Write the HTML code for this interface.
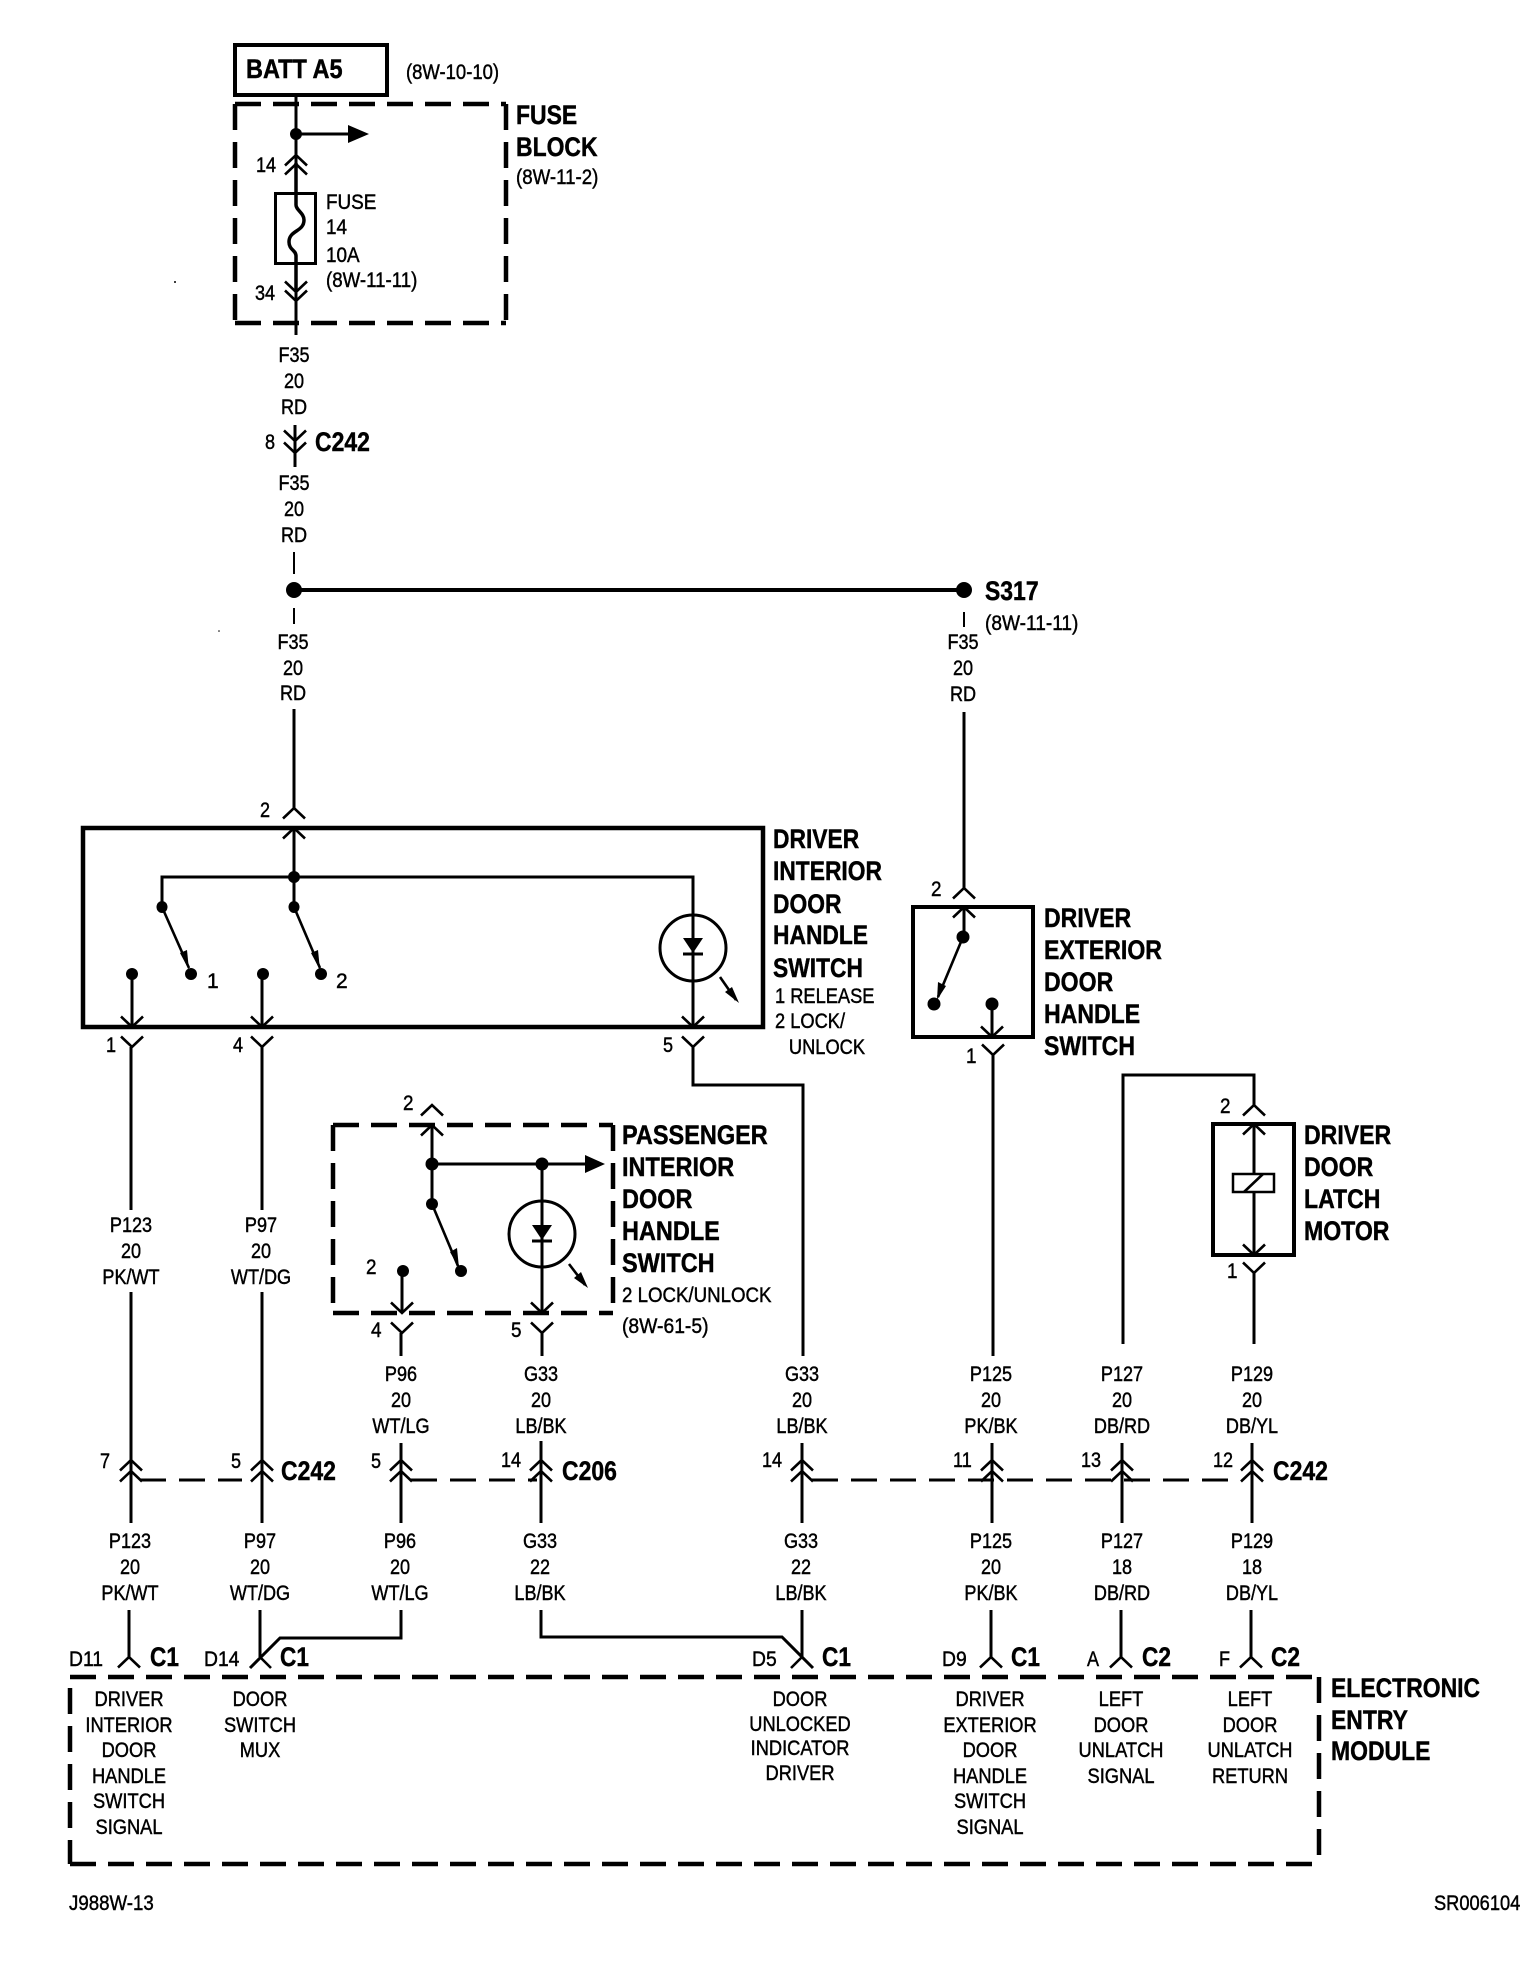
<!DOCTYPE html>
<html lang="en"><head><meta charset="utf-8"><title>Wiring diagram</title>
<style>
html,body{margin:0;padding:0;background:#fff}
svg{display:block}
text{font-family:"Liberation Sans",Arial,sans-serif;fill:#000}
.r text,text.r{font-size:21px;stroke:#000;stroke-width:.45}
.b text,text.b{font-size:27px;font-weight:bold;stroke:#000;stroke-width:.45}
.m text{text-anchor:middle}
.w{fill:none;stroke:#000;stroke-width:3}
.t{fill:none;stroke:#000;stroke-width:4}
.d{fill:none;stroke:#000;stroke-width:4.5;stroke-dasharray:26 12}
.c{fill:none;stroke:#000;stroke-width:2.6}
</style></head><body>
<svg xmlns="http://www.w3.org/2000/svg" width="1536" height="1968" viewBox="0 0 1536 1968">
<rect width="1536" height="1968" fill="#fff"/>
<defs>
<path id="u" class="c" d="M-11 10.5L0 0L11 10.5"/>
<path id="v" class="c" d="M-11 -10.5L0 0L11 -10.5"/>
</defs>

<!-- BATT + fuse block -->
<rect x="235" y="45" width="152" height="50" class="t"/>
<g class="b" transform="translate(246 78) scale(.87 1)"><text>BATT A5</text></g>
<g class="r" transform="translate(406 79) scale(.88 1)"><text>(8W-10-10)</text></g>
<path class="d" d="M235 104H506M235 104V323M235 323H506M506 104V323"/>
<path class="w" d="M296 97V205M296 255V335M296 134H351"/>
<path class="w" style="stroke-width:3.5" d="M296 163V205C296 210 304 213 304 220C304 232 289 230 289 242C289 250 296 250 296 256V292"/>
<circle cx="296" cy="134" r="6"/>
<polygon points="348,125 369,134 348,143"/>
<use href="#u" x="296" y="155"/><use href="#u" x="296" y="164"/>
<use href="#v" x="296" y="292"/><use href="#v" x="296" y="301"/>
<rect x="275.500" y="193.500" width="40" height="70" class="w"/>
<g class="r" transform="translate(256 172) scale(.86 1)"><text>14</text></g>
<g class="r" transform="translate(255 300) scale(.86 1)"><text>34</text></g>
<g class="r" transform="translate(326 209) scale(.9 1)"><text>FUSE</text><text y="25">14</text><text y="53">10A</text></g>
<g class="r" transform="translate(326 287) scale(.89 1)"><text>(8W-11-11)</text></g>
<g class="b" transform="translate(516 124) scale(.85 1)"><text>FUSE</text><text y="32">BLOCK</text></g>
<g class="r" transform="translate(516 184) scale(.89 1)"><text>(8W-11-2)</text></g>

<!-- first F35 + C242 -->
<g class="r m" transform="translate(294 362) scale(.86 1)"><text>F35</text><text y="26">20</text><text y="52">RD</text></g>
<path class="w" d="M295 425V467"/>
<use href="#v" x="295" y="441"/><use href="#v" x="295" y="453"/>
<g class="r" transform="translate(265 449) scale(.86 1)"><text>8</text></g>
<g class="b" transform="translate(315 451) scale(.85 1)"><text>C242</text></g>
<g class="r m" transform="translate(294 490) scale(.86 1)"><text>F35</text><text y="26">20</text><text y="52">RD</text></g>

<!-- splice -->
<path fill="none" stroke="#000" stroke-width="2" d="M294 552V574M294 608V624M964 612V627"/>
<path class="t" d="M294 590H964"/>
<circle cx="294" cy="590" r="8"/><circle cx="964" cy="590" r="8"/>
<g class="b" transform="translate(985 600) scale(.85 1)"><text>S317</text></g>
<g class="r" transform="translate(985 630) scale(.91 1)"><text>(8W-11-11)</text></g>
<g class="r m" transform="translate(293 649) scale(.86 1)"><text>F35</text><text y="26">20</text><text y="51">RD</text></g>
<g class="r m" transform="translate(963 649) scale(.86 1)"><text>F35</text><text y="26">20</text><text y="52">RD</text></g>
<path class="w" d="M294 709V808M964 712V888"/>

<!-- driver interior switch -->
<use href="#u" x="294" y="808"/>
<g class="r" transform="translate(260 817) scale(.86 1)"><text>2</text></g>
<rect x="83" y="828" width="680" height="199" class="t" style="stroke-width:4.500"/>
<use href="#u" x="294" y="828"/>
<path class="w" d="M294 828V907M162 907V877H693V1027"/>
<circle cx="294" cy="877" r="6"/><ellipse cx="162" cy="907" rx="5.500" ry="6"/><ellipse cx="294" cy="907" rx="5.500" ry="6"/>
<path class="c" d="M162 907L189 968M294 907L320 968"/>
<polygon points="189,970 180,953 187,950"/><polygon points="320,970 311,953 318,950"/>
<circle cx="191" cy="974" r="6"/><circle cx="321" cy="974" r="6"/>
<circle cx="132" cy="974" r="6"/><circle cx="263" cy="974" r="6"/>
<path class="w" d="M132 974V1027M262 974V1027"/>
<use href="#v" x="132" y="1027"/><use href="#v" x="262" y="1027"/><use href="#v" x="693" y="1027"/>
<g class="r"><text x="207" y="988">1</text><text x="336" y="988">2</text></g>
<circle cx="693" cy="948" r="33" class="w"/>
<polygon points="683,938 703,938 693,953"/><path class="w" d="M683 954H703"/>
<path class="c" d="M720 977L736 1000"/><polygon points="739,1003 725,992 732,987"/>
<g class="b" transform="translate(773 848) scale(.845 1)"><text>DRIVER</text><text y="32">INTERIOR</text><text y="65">DOOR</text><text y="96">HANDLE</text><text y="129">SWITCH</text></g>
<g class="r" transform="translate(775 1003) scale(.87 1)"><text>1 RELEASE</text><text y="25">2 LOCK/</text><text x="16" y="51">UNLOCK</text></g>
<use href="#v" x="132" y="1047"/><use href="#v" x="262" y="1047"/><use href="#v" x="693" y="1047"/>
<g class="r" transform="translate(106 1052) scale(.86 1)"><text>1</text></g>
<g class="r" transform="translate(233 1052) scale(.86 1)"><text>4</text></g>
<g class="r" transform="translate(663 1052) scale(.86 1)"><text>5</text></g>
<path class="w" d="M131 1047V1210M262 1047V1210M693 1047V1085H803V1356"/>

<!-- driver exterior switch -->
<use href="#u" x="964" y="888"/>
<g class="r" transform="translate(931 896) scale(.9 1)"><text>2</text></g>
<rect x="913" y="907" width="120" height="130" class="t"/>
<use href="#u" x="964" y="907"/>
<path class="w" d="M964 907V937"/>
<circle cx="963" cy="937" r="6.500"/><circle cx="934" cy="1004" r="6.500"/><circle cx="992" cy="1004" r="6.500"/>
<path class="c" d="M963 937L938 997"/><polygon points="937,1000 938,982 946,986"/>
<path class="w" d="M992 1004V1037"/>
<use href="#v" x="992" y="1037"/><use href="#v" x="993" y="1055"/>
<g class="r" transform="translate(966 1063) scale(.9 1)"><text>1</text></g>
<g class="b" transform="translate(1044 927) scale(.855 1)"><text>DRIVER</text><text y="32">EXTERIOR</text><text y="64">DOOR</text><text y="96">HANDLE</text><text y="128">SWITCH</text></g>
<path class="w" d="M993 1055V1356"/>

<!-- door latch motor -->
<path class="w" d="M1123 1344V1075H1254V1105"/>
<use href="#u" x="1254" y="1105"/>
<g class="r" transform="translate(1220 1113) scale(.9 1)"><text>2</text></g>
<rect x="1213" y="1124" width="81" height="131" class="t"/>
<use href="#u" x="1254" y="1124"/><use href="#v" x="1254" y="1255"/>
<path class="w" d="M1254 1124V1174M1254 1192V1255M1254 1273V1344"/>
<rect x="1233" y="1174" width="41" height="18" fill="#fff" stroke="#000" stroke-width="2.500"/>
<path class="c" d="M1244 1192L1263 1174"/>
<use href="#v" x="1254" y="1273"/>
<g class="r" transform="translate(1227 1278) scale(.9 1)"><text>1</text></g>
<g class="b" transform="translate(1304 1144) scale(.855 1)"><text>DRIVER</text><text y="32">DOOR</text><text y="64">LATCH</text><text y="96">MOTOR</text></g>

<!-- passenger switch -->
<use href="#u" x="432" y="1105"/>
<g class="r" transform="translate(403 1110) scale(.9 1)"><text>2</text></g>
<path class="d" d="M333 1125H613M333 1125V1313M333 1313H613M613 1125V1313"/>
<use href="#u" x="432" y="1125"/>
<path class="w" d="M432 1125V1204M432 1164H587M542 1164V1313M402 1271V1313"/>
<circle cx="432" cy="1164" r="6.500"/><circle cx="542" cy="1164" r="6.500"/><circle cx="432" cy="1204" r="6"/><circle cx="461" cy="1271" r="6"/><circle cx="403" cy="1271" r="6"/>
<polygon points="585,1155 605,1164 585,1173"/>
<path class="c" d="M432 1204L458 1266"/><polygon points="459,1268 450,1252 457,1248"/>
<g class="r" transform="translate(366 1274) scale(.9 1)"><text>2</text></g>
<circle cx="542" cy="1234" r="33" class="w"/>
<polygon points="532,1225 552,1225 542,1240"/><path class="w" d="M532 1241H552"/>
<path class="c" d="M569 1264L585 1285"/><polygon points="588,1288 574,1278 581,1272"/>
<use href="#v" x="402" y="1313"/><use href="#v" x="542" y="1313"/>
<use href="#v" x="402" y="1333"/><use href="#v" x="542" y="1333"/>
<path class="w" d="M401 1333V1356M542 1333V1356"/>
<g class="r" transform="translate(371 1337) scale(.9 1)"><text>4</text></g>
<g class="r" transform="translate(511 1337) scale(.9 1)"><text>5</text></g>
<g class="b" transform="translate(622 1144) scale(.87 1)"><text>PASSENGER</text><text y="32">INTERIOR</text><text y="64">DOOR</text><text y="96">HANDLE</text><text y="128">SWITCH</text></g>
<g class="r" transform="translate(622 1302) scale(.89 1)"><text>2 LOCK/UNLOCK</text></g>
<g class="r" transform="translate(622 1333) scale(.92 1)"><text>(8W-61-5)</text></g>

<!-- wire labels, upper -->
<g class="r m" transform="translate(131 1232) scale(.86 1)"><text>P123</text><text y="26">20</text><text y="52">PK/WT</text></g>
<g class="r m" transform="translate(261 1232) scale(.86 1)"><text>P97</text><text y="26">20</text><text y="52">WT/DG</text></g>
<g class="r m" transform="translate(401 1381) scale(.86 1)"><text>P96</text><text y="26">20</text><text y="52">WT/LG</text></g>
<g class="r m" transform="translate(541 1381) scale(.86 1)"><text>G33</text><text y="26">20</text><text y="52">LB/BK</text></g>
<g class="r m" transform="translate(802 1381) scale(.86 1)"><text>G33</text><text y="26">20</text><text y="52">LB/BK</text></g>
<g class="r m" transform="translate(991 1381) scale(.86 1)"><text>P125</text><text y="26">20</text><text y="52">PK/BK</text></g>
<g class="r m" transform="translate(1122 1381) scale(.86 1)"><text>P127</text><text y="26">20</text><text y="52">DB/RD</text></g>
<g class="r m" transform="translate(1252 1381) scale(.86 1)"><text>P129</text><text y="26">20</text><text y="52">DB/YL</text></g>

<!-- inline connector row -->
<path class="w" d="M131 1292V1523M262 1292V1523M401 1443V1523M541 1441V1523M802 1443V1523M992 1443V1523M1122 1443V1523M1252 1443V1523"/>
<path class="w" style="stroke-dasharray:26 13" d="M140 1480H242M411 1480H537M812 1480H1240"/>
<use href="#u" x="131" y="1460"/><use href="#u" x="131" y="1471"/>
<use href="#u" x="262" y="1460"/><use href="#u" x="262" y="1471"/>
<use href="#u" x="401" y="1460"/><use href="#u" x="401" y="1471"/>
<use href="#u" x="541" y="1460"/><use href="#u" x="541" y="1471"/>
<use href="#u" x="802" y="1460"/><use href="#u" x="802" y="1471"/>
<use href="#u" x="992" y="1460"/><use href="#u" x="992" y="1471"/>
<use href="#u" x="1122" y="1460"/><use href="#u" x="1122" y="1471"/>
<use href="#u" x="1252" y="1460"/><use href="#u" x="1252" y="1471"/>
<g class="r" transform="translate(100 1468) scale(.86 1)"><text>7</text></g>
<g class="r" transform="translate(231 1468) scale(.86 1)"><text>5</text></g>
<g class="r" transform="translate(371 1468) scale(.86 1)"><text>5</text></g>
<g class="r" transform="translate(501 1467) scale(.86 1)"><text>14</text></g>
<g class="r" transform="translate(762 1467) scale(.86 1)"><text>14</text></g>
<g class="r" transform="translate(953 1467) scale(.86 1)"><text>11</text></g>
<g class="r" transform="translate(1081 1467) scale(.86 1)"><text>13</text></g>
<g class="r" transform="translate(1213 1467) scale(.86 1)"><text>12</text></g>
<g class="b" transform="translate(281 1480) scale(.85 1)"><text>C242</text></g>
<g class="b" transform="translate(562 1480) scale(.85 1)"><text>C206</text></g>
<g class="b" transform="translate(1273 1480) scale(.85 1)"><text>C242</text></g>

<!-- wire labels, lower -->
<g class="r m" transform="translate(130 1548) scale(.86 1)"><text>P123</text><text y="26">20</text><text y="52">PK/WT</text></g>
<g class="r m" transform="translate(260 1548) scale(.86 1)"><text>P97</text><text y="26">20</text><text y="52">WT/DG</text></g>
<g class="r m" transform="translate(400 1548) scale(.86 1)"><text>P96</text><text y="26">20</text><text y="52">WT/LG</text></g>
<g class="r m" transform="translate(540 1548) scale(.86 1)"><text>G33</text><text y="26">22</text><text y="52">LB/BK</text></g>
<g class="r m" transform="translate(801 1548) scale(.86 1)"><text>G33</text><text y="26">22</text><text y="52">LB/BK</text></g>
<g class="r m" transform="translate(991 1548) scale(.86 1)"><text>P125</text><text y="26">20</text><text y="52">PK/BK</text></g>
<g class="r m" transform="translate(1122 1548) scale(.86 1)"><text>P127</text><text y="26">18</text><text y="52">DB/RD</text></g>
<g class="r m" transform="translate(1252 1548) scale(.86 1)"><text>P129</text><text y="26">18</text><text y="52">DB/YL</text></g>

<!-- module connectors -->
<path class="w" d="M129 1610V1657M260 1610V1657M401 1610V1638H280L250 1668M541 1610V1637H782L813 1668M802 1610V1657M991 1610V1657M1121 1610V1657M1251 1610V1657"/>
<use href="#u" x="129" y="1657"/>
<path class="c" d="M260 1657L271 1668M802 1657L791 1668"/>
<use href="#u" x="991" y="1657"/><use href="#u" x="1121" y="1657"/><use href="#u" x="1251" y="1657"/>
<g class="r" transform="translate(69 1666) scale(.92 1)"><text>D11</text></g>
<g class="r" transform="translate(204 1666) scale(.92 1)"><text>D14</text></g>
<g class="r" transform="translate(752 1666) scale(.92 1)"><text>D5</text></g>
<g class="r" transform="translate(942 1666) scale(.92 1)"><text>D9</text></g>
<g class="r" transform="translate(1087 1666) scale(.86 1)"><text>A</text></g>
<g class="r" transform="translate(1219 1666) scale(.86 1)"><text>F</text></g>
<g class="b" transform="translate(150 1666) scale(.84 1)"><text>C1</text></g>
<g class="b" transform="translate(280 1666) scale(.84 1)"><text>C1</text></g>
<g class="b" transform="translate(822 1666) scale(.84 1)"><text>C1</text></g>
<g class="b" transform="translate(1011 1666) scale(.84 1)"><text>C1</text></g>
<g class="b" transform="translate(1142 1666) scale(.84 1)"><text>C2</text></g>
<g class="b" transform="translate(1271 1666) scale(.84 1)"><text>C2</text></g>

<!-- module -->
<path class="d" d="M70 1677H1319M70 1688V1864M70 1864H1319M1319 1677V1864"/>
<g class="r m" transform="translate(129 1706) scale(.87 1)"><text>DRIVER</text><text y="26">INTERIOR</text><text y="51">DOOR</text><text y="77">HANDLE</text><text y="102">SWITCH</text><text y="128">SIGNAL</text></g>
<g class="r m" transform="translate(260 1706) scale(.87 1)"><text>DOOR</text><text y="26">SWITCH</text><text y="51">MUX</text></g>
<g class="r m" transform="translate(800 1706) scale(.87 1)"><text>DOOR</text><text y="25">UNLOCKED</text><text y="49">INDICATOR</text><text y="74">DRIVER</text></g>
<g class="r m" transform="translate(990 1706) scale(.87 1)"><text>DRIVER</text><text y="26">EXTERIOR</text><text y="51">DOOR</text><text y="77">HANDLE</text><text y="102">SWITCH</text><text y="128">SIGNAL</text></g>
<g class="r m" transform="translate(1121 1706) scale(.87 1)"><text>LEFT</text><text y="26">DOOR</text><text y="51">UNLATCH</text><text y="77">SIGNAL</text></g>
<g class="r m" transform="translate(1250 1706) scale(.87 1)"><text>LEFT</text><text y="26">DOOR</text><text y="51">UNLATCH</text><text y="77">RETURN</text></g>
<g class="b" transform="translate(1331 1697) scale(.85 1)"><text>ELECTRONIC</text><text y="32">ENTRY</text><text y="63">MODULE</text></g>

<!-- footer -->
<g class="r" transform="translate(69 1910) scale(.89 1)"><text>J988W-13</text></g>
<g class="r" transform="translate(1434 1910) scale(.87 1)"><text>SR006104</text></g>
<circle cx="175" cy="282" r="1"/><circle cx="219" cy="631" r=".8"/>
</svg>
</body></html>
